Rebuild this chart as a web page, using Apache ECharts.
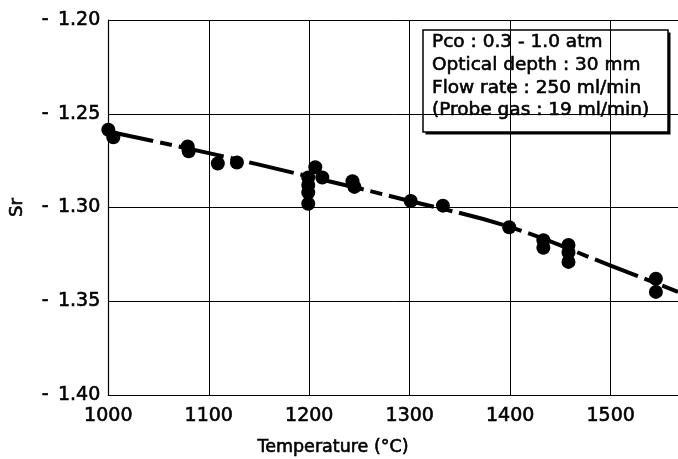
<!DOCTYPE html>
<html>
<head>
<meta charset="utf-8">
<script src="https://cdn.jsdelivr.net/npm/echarts@6/dist/echarts.min.js"></script>
<style>html,body{margin:0;padding:0;background:#fff}#c{width:678px;height:459px}</style>
</head>
<body>
<div id="c"></div>
<script>
// Measured points
const tempPoints = [1000, 1005, 1079, 1080, 1109, 1128, 1199, 1199, 1199, 1199, 1206, 1213, 1243, 1245, 1301, 1333, 1399, 1433, 1433, 1458, 1458, 1458, 1545, 1545];
const srPoints   = [-1.2585, -1.2625, -1.2675, -1.2700, -1.2765, -1.2760, -1.2840, -1.2880, -1.2920, -1.2980, -1.2785, -1.2840, -1.2860, -1.2890, -1.2965, -1.2990, -1.3105, -1.3175, -1.3215, -1.3200, -1.3240, -1.3290, -1.3380, -1.3450];
// Fitted (dashed) curve
const lineTemps = [1000, 1100, 1200, 1300, 1400, 1500, 1567];
const lineSr    = [-1.2595, -1.2710, -1.2835, -1.2965, -1.3105, -1.3310, -1.3450];
// Axes
const xMin = 1000, xMax = 1567, xStep = 100;
const yMin = -1.40, yMax = -1.20, yStep = 0.05;
const xTitle = 'Temperature (°C)';
const yTitle = 'Sr';
const noteLines = ['Pco : 0.3 - 1.0 atm', 'Optical depth : 30 mm', 'Flow rate : 250 ml/min', '(Probe gas : 19 ml/min)'];

const FONT = 'DejaVu Sans';
const heavy = { textBorderColor: '#000', textBorderWidth: 0.6 };
const chart = echarts.init(document.getElementById('c'));

const noteChildren = [
  { type: 'rect', shape: { x: 2.5, y: 2.5, width: 245, height: 102 }, style: { fill: '#000' } },
  { type: 'rect', shape: { x: 0, y: 0, width: 245, height: 102 }, style: { fill: '#fff', stroke: '#000', lineWidth: 1.5 } }
];
noteLines.forEach((t, i) => {
  noteChildren.push({ type: 'text', x: 9, y: 12.5 + i * 22.7, style: { text: t, font: '18.5px "' + FONT + '"', fill: '#000', stroke: '#000', lineWidth: 0.6, textVerticalAlign: 'middle' } });
});

chart.setOption({
  animation: false,
  backgroundColor: '#fff',
  grid: { left: 105, top: 20, right: 0, bottom: 64 },
  xAxis: {
    type: 'value', min: xMin, max: xMax, interval: xStep,
    axisLine: { show: true, lineStyle: { color: '#000', width: 1.2 } },
    axisTick: { show: false },
    splitLine: { show: true, lineStyle: { color: '#000', width: 1 } },
    axisLabel: Object.assign({
      color: '#000', fontFamily: FONT, fontSize: 19, margin: 12,
      showMaxLabel: false,
      formatter: v => (v % 100 === 0 ? String(v) : '')
    }, heavy)
  },
  yAxis: {
    type: 'value', min: yMin, max: yMax, interval: yStep,
    name: yTitle, nameLocation: 'middle', nameGap: 82, nameRotate: 90,
    nameTextStyle: Object.assign({ color: '#000', fontFamily: FONT, fontSize: 18 }, heavy),
    axisLine: { show: true, lineStyle: { color: '#000', width: 1.2 } },
    axisTick: { show: false },
    splitLine: { show: true, lineStyle: { color: '#000', width: 1 } },
    axisLabel: Object.assign({
      color: '#000', fontFamily: FONT, fontSize: 19, margin: 8,
      formatter: v => '-\u2002' + Math.abs(v).toFixed(2)
    }, heavy)
  },
  graphic: [
    { type: 'text', x: 333, y: 447, style: { text: xTitle, font: '17.5px "' + FONT + '"', fill: '#000', stroke: '#000', lineWidth: 0.6, textAlign: 'center', textVerticalAlign: 'middle' } },
    { type: 'group', x: 423, y: 30, z: 100, children: noteChildren }
  ],
  series: [
    {
      type: 'line', smooth: 0.4, showSymbol: false, symbol: 'none', z: 2,
      data: lineTemps.map((t, i) => [t, lineSr[i]]),
      lineStyle: { color: '#000', width: 4, type: [46, 7, 12, 7] }
    },
    {
      type: 'scatter', symbol: 'circle', symbolSize: 14, z: 3,
      data: tempPoints.map((t, i) => [t, srPoints[i]]),
      itemStyle: { color: '#000', opacity: 1 }
    }
  ]
});
</script>
</body>
</html>
